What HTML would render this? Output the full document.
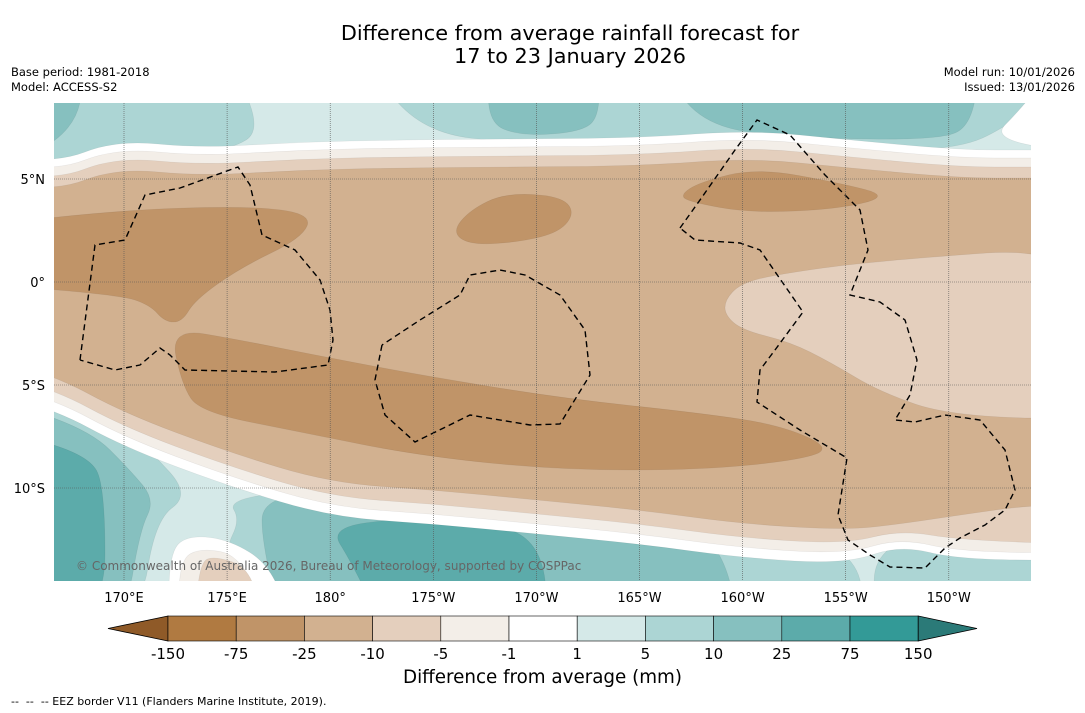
<!DOCTYPE html>
<html><head><meta charset="utf-8">
<style>
html,body{margin:0;padding:0;background:#fff;}
body{width:1085px;height:713px;overflow:hidden;position:relative;font-family:"DejaVu Sans","Liberation Sans",sans-serif;}
.t{position:absolute;color:#000;white-space:nowrap;}
</style></head>
<body>
<div class="t" style="left:0;width:1140px;text-align:center;top:22px;font-size:20.8px;line-height:23px;">Difference from average rainfall forecast for<br>17 to 23 January 2026</div>
<div class="t" style="left:11px;top:65px;font-size:11.5px;line-height:15px;">Base period: 1981-2018<br>Model: ACCESS-S2</div>
<div class="t" style="right:10px;top:65px;font-size:11.5px;line-height:15px;text-align:right;">Model run: 10/01/2026<br>Issued: 13/01/2026</div>
<svg id="svg" width="1085" height="713" style="position:absolute;left:0;top:0">
<defs><clipPath id="mc"><rect x="54" y="103" width="977" height="478"/></clipPath></defs>
<g id="map" clip-path="url(#mc)"></g>
<g id="axes"></g>
<g id="cbar"></g>
</svg>
<div class="t" style="left:0;width:1085px;text-align:center;top:667px;font-size:18.3px;">Difference from average (mm)</div>
<div class="t" style="left:11px;top:695px;font-size:11px;">-- &nbsp;-- &nbsp;-- EEZ border V11 (Flanders Marine Institute, 2019).</div>
<script>
const levelLabels=["-150","-75","-25","-10","-5","-1","1","5","10","25","75","150"];
const levelColors=["#b07a41","#c09468","#d2b190","#e4cfbd","#f3eee8","#ffffff","#d5e9e8","#acd5d4","#86c0bf","#5cabaa","#339a97"];
const extendColors=["#8f5a28","#2b7a78"];
const lonTicks=["170°E","175°E","180°","175°W","170°W","165°W","160°W","155°W","150°W"];
const lonValues=[170,175,180,185,190,195,200,205,210];
const latTicks=["5°N","0°","5°S","10°S"];
const latValues=[5,0,-5,-10];
const NS='http://www.w3.org/2000/svg';
const X0=54,X1=1031,Y0=103,Y1=581;
const lonX=l=>124+(l-170)*20.62;
const latY=v=>282-v*20.6;
const C={b75:levelColors[1],b25:levelColors[2],b10:levelColors[3],b5:levelColors[4],w:"#ffffff",t1:levelColors[6],t5:levelColors[7],t10:levelColors[8],t25:levelColors[9]};
function el(tag,attrs,parent){const e=document.createElementNS(NS,tag);for(const k in attrs)e.setAttribute(k,attrs[k]);parent.appendChild(e);return e;}
const map=document.getElementById('map');
function smooth(pts){const n=pts.length;const mid=(a,b)=>[(a[0]+b[0])/2,(a[1]+b[1])/2];
let m=mid(pts[n-1],pts[0]);let d='M'+m.join(',');
for(let i=0;i<n;i++){const nm=mid(pts[i],pts[(i+1)%n]);d+='Q'+pts[i].join(',')+' '+nm.join(',');}
return d+'Z';}
function poly(pts,fill,name){const e=el('path',{d:smooth(pts),fill:fill,stroke:'rgba(0,0,0,0.08)','stroke-width':0.6,'stroke-linejoin':'round'},map);


return e;}
function rectp(pts,fill,name){const e=el('path',{d:'M'+pts.map(p=>p.join(',')).join('L')+'Z',fill:fill},map);

}
rectp([[X0,Y0],[X1,Y0],[X1,Y1],[X0,Y1]],C.t1,'contour-1-5');
poly([[0,60],[230,60],[262,130],[230,150],[170,152],[118,148],[80,160],[0,200]],C.t5,'contour-5-10-nw');
poly([[0,60],[84,60],[78,130],[0,170]],C.t10,'contour-10-25-nw');
poly([[365,60],[1100,60],[1005,128],[960,148],[880,150],[760,144],[640,142],[520,144],[420,132]],C.t5,'contour-5-10-n');
poly([[490,60],[598,60],[600,115],[582,132],[520,136],[487,122]],C.t10,'contour-10-25-n1');
poly([[660,60],[980,60],[972,125],[940,140],[800,138],[700,126]],C.t10,'contour-10-25-n2');
poly([[0,380],[100,410],[150,450],[190,495],[155,520],[140,620],[0,620]],C.t5,'contour-5-10-sw');
poly([[0,400],[90,430],[130,470],[155,500],[140,530],[125,620],[0,620]],C.t10,'contour-10-25-sw');
poly([[0,430],[90,455],[105,490],[105,620],[0,620]],C.t25,'contour-25-75-sw');
poly([[228,500],[300,490],[420,494],[560,505],[700,520],[850,540],[870,620],[228,620],[225,550],[240,520]],C.t5,'contour-5-10-s');
poly([[262,500],[330,490],[440,497],[560,510],[680,528],[720,545],[740,620],[280,620],[262,540]],C.t10,'contour-10-25-s');
poly([[330,528],[400,518],[480,520],[540,540],[550,620],[380,620],[350,560]],C.t25,'contour-25-75-s');
poly([[870,560],[920,530],[990,545],[1100,560],[1100,620],[880,620]],C.t5,'contour-5-10-se');
poly([[168,620],[170,550],[190,535],[230,540],[270,565],[290,620]],C.w,'contour-white-s');
poly([[178,620],[180,560],[200,548],[240,555],[268,620]],C.b5,'contour-minus5-s');
poly([[195,620],[200,562],[215,556],[250,568],[262,620]],C.b10,'contour-minus10-s');
const topC=[[54,192],[116,168],[200,176],[300,170],[400,168],[500,167],[640,166],[750,158],[850,168],[960,178],[1031,178]];
const botC=[[54,375],[124,413],[228,452],[331,483],[434,490],[537,500],[640,510],[743,524],[846,530],[900,524],[960,515],[1031,505]];
const bands=[[C.w,28,34],[C.b5,20,24],[C.b10,11,14],[C.b25,0,0]];
const botExtra={0:[[1100,560],[960,560],[900,545]],1:[[1100,553],[960,552],[900,538]],2:[[1100,545],[960,540],[900,530]]};
bands.forEach((b,i)=>{
  const top=[[-40,topC[0][1]-b[1]-15]].concat(topC.map(p=>[p[0],p[1]-b[1]])).concat([[1100,topC[topC.length-1][1]-b[1]]]);
  let bot;
  if(botExtra[i]){bot=botExtra[i].concat(botC.filter(p=>p[0]<900).map(p=>[p[0],p[1]+b[2]]).reverse());}
  else{bot=[[1100,botC[botC.length-1][1]]].concat(botC.map(p=>[p[0],p[1]+b[2]]).reverse());}
  bot.push([-40,botC[0][1]+b[2]-25]);
  poly(top.concat(bot),b[0],'contour-band-'+i);
});
poly([[1100,60],[1060,60],[1020,110],[990,140],[1100,155]],C.w,'contour-white-ne');
poly([[-40,228],[120,210],[250,206],[312,214],[302,238],[240,268],[195,300],[182,322],[165,322],[150,305],[120,295],[-40,282]],C.b75,'contour-minus75-w');
poly([[170,328],[240,340],[320,356],[420,375],[560,398],[700,413],[780,425],[832,448],[800,460],[700,470],[560,470],[420,456],[300,432],[200,412],[182,385]],C.b75,'contour-minus75-s');
poly([[452,232],[470,210],[505,193],[560,196],[575,212],[560,232],[520,242],[470,245]],C.b75,'contour-minus75-c');
poly([[680,195],[700,182],[757,168],[840,183],[890,196],[840,209],[750,213],[690,202]],C.b75,'contour-minus75-e');
poly([[725,300],[740,284],[773,275],[873,261],[1100,245],[1100,420],[950,416],[880,392],[830,362],[790,342],[742,330],[725,315]],C.b10,'contour-minus10-e');
const eez=[
[[80,360],[95,245],[125,240],[145,195],[180,188],[238,167],[250,185],[262,235],[295,250],[320,280],[330,310],[333,340],[328,365],[275,372],[185,370],[170,355],[160,348],[140,365],[115,370],[80,360]],
[[382,345],[375,380],[385,415],[415,442],[470,415],[530,425],[560,424],[590,375],[585,330],[560,295],[525,275],[500,270],[470,275],[460,295],[420,320],[382,345]],
[[680,228],[700,200],[735,150],[757,120],[790,135],[825,175],[860,210],[868,250],[850,295],[880,302],[905,320],[917,360],[910,395],[895,420],[915,422],[945,415],[980,420],[1005,450],[1015,490],[1005,510],[985,525],[960,538],[945,548],[925,568],[890,567],[870,555],[848,540],[838,515],[847,458],[800,430],[757,402],[760,370],[775,350],[803,312],[760,250],[740,243],[695,240],[680,228]]];
eez.forEach((p,i)=>{const e=el('path',{d:'M'+p.map(q=>q.join(',')).join('L'),fill:'none',stroke:'#000','stroke-width':1.4,'stroke-dasharray':'6,4'},map);

});
const axes=document.getElementById('axes');
lonValues.forEach((v,i)=>{const x=lonX(v);
const g=el('line',{x1:x,x2:x,y1:Y0,y2:Y1,stroke:'#555','stroke-width':0.6,'stroke-dasharray':'1,1'},axes);


const t=el('text',{x:x,y:602,'text-anchor':'middle','font-size':13},axes);t.textContent=lonTicks[i];

});
latValues.forEach((v,i)=>{const y=latY(v);
const g=el('line',{x1:X0,x2:X1,y1:y,y2:y,stroke:'#555','stroke-width':0.6,'stroke-dasharray':'1,1'},axes);


const t=el('text',{x:45,y:y+5,'text-anchor':'end','font-size':13},axes);t.textContent=latTicks[i];

});
const cp=el('text',{x:76,y:570,'font-size':12,fill:'#666'},axes);cp.textContent='© Commonwealth of Australia 2026, Bureau of Meteorology, supported by COSPPac';


const cb=document.getElementById('cbar');
const bx0=168,bw=68.2,by=616,bh=25;
const lt=el('path',{d:`M${bx0},${by}L108,${by+bh/2}L${bx0},${by+bh}Z`,fill:extendColors[0],stroke:'#000','stroke-width':0.8},cb);


levelColors.forEach((c,i)=>{const r=el('rect',{x:bx0+i*bw,y:by,width:bw,height:bh,fill:c,stroke:'#000','stroke-width':0.6},cb);

});
const xe=bx0+levelColors.length*bw;
const rt=el('path',{d:`M${xe},${by}L977,${by+bh/2}L${xe},${by+bh}Z`,fill:extendColors[1],stroke:'#000','stroke-width':0.8},cb);


levelLabels.forEach((s,i)=>{const t=el('text',{x:bx0+i*bw,y:659,'text-anchor':'middle','font-size':15},cb);t.textContent=s;

});
</script>
</body></html>
